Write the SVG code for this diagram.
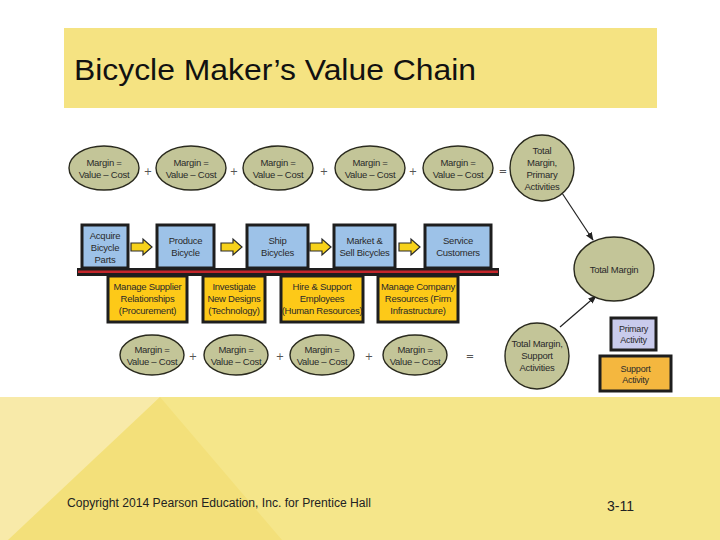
<svg xmlns="http://www.w3.org/2000/svg" width="720" height="540" viewBox="0 0 720 540">
<defs>
<style>
.el{fill:#c3c598;stroke:#2a2a1e;stroke-width:1.4}
.pri{fill:#9dc2e8;stroke:#1e1e1e;stroke-width:3}
.sup{fill:#fdc918;stroke:#1e1e1e;stroke-width:3}
.t{font-family:"Liberation Sans",Arial,sans-serif;font-size:9.5px;letter-spacing:-0.25px;fill:#2a2a2a;text-anchor:middle}
.op{font-family:"DejaVu Sans",sans-serif;font-size:10px;fill:#555;text-anchor:middle}
.ya{fill:#f7d21b;stroke:#2a2a2a;stroke-width:1.2}
.con{stroke:#222;stroke-width:1.2;fill:none}
</style>
<marker id="ah" viewBox="0 0 10 10" refX="9" refY="5" markerWidth="7" markerHeight="7" orient="auto">
<path d="M0,1 L10,5 L0,9 Z" fill="#222"/>
</marker>
<path id="yarrow" d="M0,-4 H12 V-8 L21,0 L12,8 V4 H0 Z"/>
</defs>

<rect x="0" y="0" width="720" height="540" fill="#ffffff"/>

<!-- title -->
<rect x="64" y="28" width="593" height="80" fill="#f5e382"/>
<text x="74" y="80" font-family="Liberation Sans, Arial, sans-serif" font-size="30" fill="#111" textLength="402" lengthAdjust="spacingAndGlyphs">Bicycle Maker’s Value Chain</text>

<!-- footer -->
<rect x="0" y="397" width="720" height="143" fill="#f5e68a"/>
<polygon points="0,397 160,397 0,560" fill="#f8eaa9"/>
<polygon points="160,397 282,540 8,540" fill="#f3e07a"/>
<text x="67" y="507" font-family="Liberation Sans, Arial, sans-serif" font-size="12" fill="#222" textLength="304" lengthAdjust="spacingAndGlyphs">Copyright  2014 Pearson Education, Inc. for Prentice Hall</text>
<text x="607" y="511" font-family="Liberation Sans, Arial, sans-serif" font-size="14" fill="#222">3-11</text>

<!-- connectors -->
<g id="connectors">
<line class="con" x1="562" y1="193" x2="593" y2="240" marker-end="url(#ah)"/>
<line class="con" x1="560" y1="327" x2="596" y2="296" marker-end="url(#ah)"/>
<use href="#yarrow" class="ya" x="131" y="247"/>
<use href="#yarrow" class="ya" x="221" y="247"/>
<use href="#yarrow" class="ya" x="310" y="247"/>
<use href="#yarrow" class="ya" x="399" y="247"/>
</g>

<!-- operators -->
<g id="operators">
<text class="op" x="148" y="175">+</text>
<text class="op" x="234" y="175">+</text>
<text class="op" x="324" y="175">+</text>
<text class="op" x="413" y="175">+</text>
<text class="op" x="503" y="175">=</text>
<text class="op" x="193" y="360">+</text>
<text class="op" x="280" y="360">+</text>
<text class="op" x="369" y="360">+</text>
<text class="op" x="470" y="360">=</text>
</g>

<!-- top margins -->
<g id="m1"><ellipse class="el" cx="104" cy="168" rx="35" ry="22"/><text class="t" x="104" y="166">Margin =</text><text class="t" x="104" y="178">Value – Cost</text></g>
<g id="m2"><ellipse class="el" cx="191" cy="168" rx="35" ry="22"/><text class="t" x="191" y="166">Margin =</text><text class="t" x="191" y="178">Value – Cost</text></g>
<g id="m3"><ellipse class="el" cx="278" cy="168" rx="35" ry="22"/><text class="t" x="278" y="166">Margin =</text><text class="t" x="278" y="178">Value – Cost</text></g>
<g id="m4"><ellipse class="el" cx="370" cy="168" rx="35" ry="22"/><text class="t" x="370" y="166">Margin =</text><text class="t" x="370" y="178">Value – Cost</text></g>
<g id="m5"><ellipse class="el" cx="458" cy="168" rx="35" ry="22"/><text class="t" x="458" y="166">Margin =</text><text class="t" x="458" y="178">Value – Cost</text></g>
<g id="tmp"><ellipse class="el" cx="542" cy="168" rx="32" ry="33"/>
<text class="t" x="542" y="154">Total</text><text class="t" x="542" y="166">Margin,</text><text class="t" x="542" y="178">Primary</text><text class="t" x="542" y="190">Activities</text></g>

<!-- bar -->
<g id="bar">
<rect x="77" y="268" width="422" height="8" fill="#1e1e1e"/>
<rect x="78" y="270.5" width="420" height="2.5" fill="#c4262b"/>
</g>

<!-- primary activities -->
<g id="p1"><rect class="pri" x="82" y="225" width="46" height="43"/><text class="t" x="105" y="239">Acquire</text><text class="t" x="105" y="251">Bicycle</text><text class="t" x="105" y="263">Parts</text></g>
<g id="p2"><rect class="pri" x="157" y="225" width="57" height="43"/><text class="t" x="185.5" y="244">Produce</text><text class="t" x="185.5" y="256">Bicycle</text></g>
<g id="p3"><rect class="pri" x="247" y="225" width="61" height="43"/><text class="t" x="277.5" y="244">Ship</text><text class="t" x="277.5" y="256">Bicycles</text></g>
<g id="p4"><rect class="pri" x="334" y="225" width="61" height="43"/><text class="t" x="364.5" y="244">Market &amp;</text><text class="t" x="364.5" y="256">Sell Bicycles</text></g>
<g id="p5"><rect class="pri" x="425" y="225" width="66" height="43"/><text class="t" x="458" y="244">Service</text><text class="t" x="458" y="256">Customers</text></g>

<!-- support activities -->
<g id="s1"><rect class="sup" x="108" y="276" width="79" height="46"/><text class="t" x="147.5" y="290">Manage Supplier</text><text class="t" x="147.5" y="302">Relationships</text><text class="t" x="147.5" y="314">(Procurement)</text></g>
<g id="s2"><rect class="sup" x="203" y="276" width="62" height="46"/><text class="t" x="234" y="290">Investigate</text><text class="t" x="234" y="302">New Designs</text><text class="t" x="234" y="314">(Technology)</text></g>
<g id="s3"><rect class="sup" x="281" y="276" width="82" height="46"/><text class="t" x="322" y="290">Hire &amp; Support</text><text class="t" x="322" y="302">Employees</text><text class="t" x="322" y="314">(Human Resources)</text></g>
<g id="s4"><rect class="sup" x="378" y="276" width="80" height="46"/><text class="t" x="418" y="290">Manage Company</text><text class="t" x="418" y="302">Resources (Firm</text><text class="t" x="418" y="314">Infrastructure)</text></g>

<!-- bottom margins -->
<g id="b1"><ellipse class="el" cx="152" cy="355" rx="32" ry="20"/><text class="t" x="152" y="353">Margin =</text><text class="t" x="152" y="365">Value – Cost</text></g>
<g id="b2"><ellipse class="el" cx="236" cy="355" rx="32" ry="20"/><text class="t" x="236" y="353">Margin =</text><text class="t" x="236" y="365">Value – Cost</text></g>
<g id="b3"><ellipse class="el" cx="322" cy="355" rx="32" ry="20"/><text class="t" x="322" y="353">Margin =</text><text class="t" x="322" y="365">Value – Cost</text></g>
<g id="b4"><ellipse class="el" cx="415" cy="355" rx="32" ry="20"/><text class="t" x="415" y="353">Margin =</text><text class="t" x="415" y="365">Value – Cost</text></g>
<g id="tms"><ellipse class="el" cx="537" cy="356" rx="32" ry="33"/>
<text class="t" x="537" y="347">Total Margin,</text><text class="t" x="537" y="359">Support</text><text class="t" x="537" y="371">Activities</text></g>

<!-- total margin -->
<g id="tm"><ellipse class="el" cx="614" cy="269" rx="40" ry="32"/><text class="t" x="614" y="273">Total Margin</text></g>

<!-- legend -->
<g id="legend-primary"><rect x="611" y="318" width="45" height="32" fill="#c9cbec" stroke="#1e1e1e" stroke-width="3"/><text class="t" x="633.5" y="332" style="font-size:9px">Primary</text><text class="t" x="633.5" y="343" style="font-size:9px">Activity</text></g>
<g id="legend-support"><rect x="600" y="356" width="71" height="35" fill="#f4b73f" stroke="#1e1e1e" stroke-width="3"/><text class="t" x="635.5" y="372" style="font-size:9px">Support</text><text class="t" x="635.5" y="383" style="font-size:9px">Activity</text></g>
</svg>
